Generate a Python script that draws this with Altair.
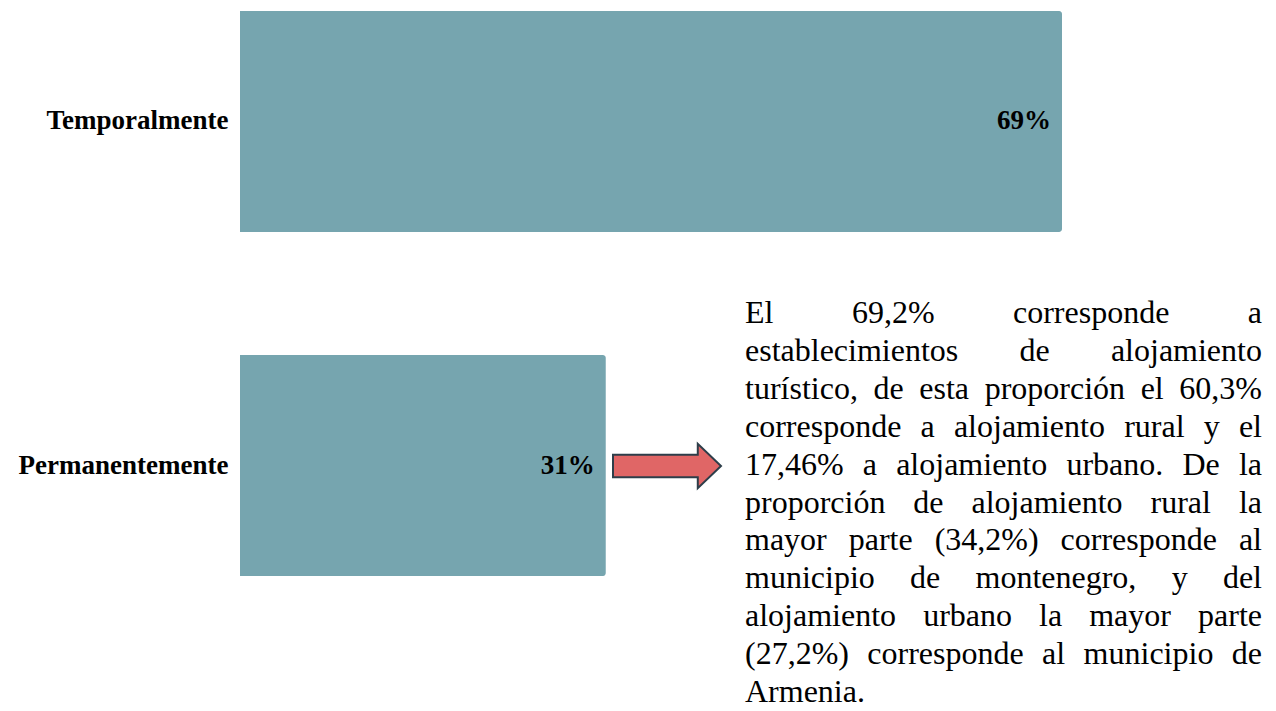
import altair as alt
import pandas as pd

# ---------------- data ----------------
categories = ["Temporalmente", "Permanentemente"]
values = [69.2, 30.8]
value_labels = ["69%", "31%"]

note_lines = [
    "El 69,2% corresponde a",
    "establecimientos de alojamiento",
    "turístico, de esta proporción el 60,3%",
    "corresponde a alojamiento rural y el",
    "17,46% a alojamiento urbano. De la",
    "proporción de alojamiento rural la",
    "mayor parte (34,2%) corresponde al",
    "municipio de montenegro, y del",
    "alojamiento urbano la mayor parte",
    "(27,2%) corresponde al municipio de",
    "Armenia.",
]

# ---------------- styling / layout ----------------
BAR_COLOR = "#76a5af"
PLOT_W, PLOT_H = 822, 571
NOTE_SIZE = 32
NOTE_LEFT, NOTE_RIGHT = 505, 1022
NOTE_BASE0, NOTE_STEP = 315, 37.9

# Times-Roman advance widths (1/1000 em) -- Liberation Serif is metric compatible
TIMES = {
    " ": 250, ",": 250, ".": 250, "%": 833, "(": 333, ")": 333,
    "0": 500, "1": 500, "2": 500, "3": 500, "4": 500, "5": 500,
    "6": 500, "7": 500, "8": 500, "9": 500,
    "A": 722, "D": 722, "E": 611,
    "a": 444, "b": 500, "c": 444, "d": 500, "e": 444, "f": 333, "g": 500,
    "h": 500, "i": 278, "j": 278, "k": 500, "l": 278, "m": 778, "n": 500,
    "o": 500, "p": 500, "q": 500, "r": 333, "s": 389, "t": 278, "u": 500,
    "v": 500, "w": 722, "x": 500, "y": 500, "z": 444, "í": 278, "ó": 500,
}


def text_width(s, size):
    return sum(TIMES.get(ch, 500) for ch in s) / 1000.0 * size


rows = []
line_w = NOTE_RIGHT - NOTE_LEFT
for i, line in enumerate(note_lines):
    words = line.split()
    widths = [text_width(w, NOTE_SIZE) for w in words]
    if i == len(note_lines) - 1 or len(words) == 1:
        gap = text_width(" ", NOTE_SIZE)
    else:
        gap = (line_w - sum(widths)) / (len(words) - 1)
    x = NOTE_LEFT
    for w, wd in zip(words, widths):
        rows.append({"word": w, "px": x, "py": NOTE_BASE0 + i * NOTE_STEP})
        x += wd + gap
words_df = pd.DataFrame(rows)

df = pd.DataFrame({"category": categories, "value": values, "label": value_labels})

x_enc = alt.X("value:Q", scale=alt.Scale(domain=[0, values[0]], nice=False, zero=True), axis=None)
y_scale = alt.Scale(type="band", paddingInner=0.3576, paddingOuter=0.0087)

bars = alt.Chart(df).mark_bar(color=BAR_COLOR, cornerRadiusEnd=3).encode(
    x=x_enc,
    y=alt.Y(
        "category:N",
        sort=categories,
        scale=y_scale,
        axis=alt.Axis(
            title=None, ticks=False, domain=False, grid=False,
            labelFont="Liberation Serif", labelFontWeight="bold",
            labelFontSize=27, labelColor="black", labelPadding=12, labelLimit=400,
        ),
    ),
)

labels = alt.Chart(df).mark_text(
    align="right", baseline="middle", dx=-11,
    font="Liberation Serif", fontWeight="bold", fontSize=27, color="black",
).encode(
    x=x_enc,
    y=alt.Y("category:N", sort=categories, scale=y_scale, axis=None),
    text="label:N",
)

ARROW = "M -1 -0.21 L 0.57 -0.21 L 0.57 -0.41 L 1 0 L 0.57 0.41 L 0.57 0.21 L -1 0.21 Z"
arrow = alt.Chart(pd.DataFrame({"a": [0]})).mark_point(
    shape=ARROW, size=108 * 108, filled=True, fill="#e06666", stroke="#2d3e4a",
    strokeWidth=2, opacity=1, fillOpacity=1,
).encode(x=alt.value(427), y=alt.value(458))

notes = alt.Chart(words_df).mark_text(
    align="left", baseline="alphabetic", font="Liberation Serif",
    fontSize=NOTE_SIZE, color="black",
).encode(
    x=alt.X("px:Q", scale=None, axis=None),
    y=alt.Y("py:Q", scale=None, axis=None),
    text="word:N",
)

chart = (
    alt.layer(bars, labels, arrow, notes)
    .resolve_scale(x="independent", y="independent")
    .properties(
        width=PLOT_W,
        height=PLOT_H,
        autosize=alt.AutoSizeParams(type="none"),
        padding={"left": 232, "top": 0, "right": 206, "bottom": 124},
        background="white",
    )
    .configure_view(stroke=None)
)

chart.save("out.html", embed_options={"renderer": "svg", "actions": False})
